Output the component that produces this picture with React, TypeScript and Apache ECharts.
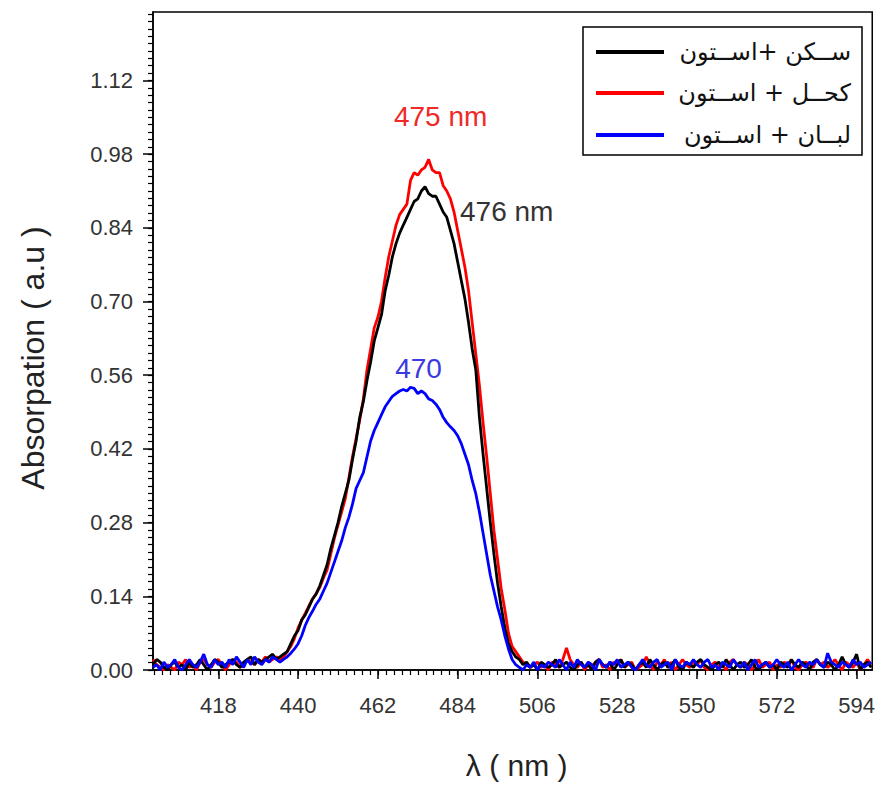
import React, { useEffect, useRef } from "react";
import * as echarts from "echarts";

// Wavelength grid (nm), 1 nm sampling from 400 to 598
const lambdaStart = 400;
const lambdaCount = 199;
const wavelengths: number[] = Array.from({ length: lambdaCount }, (_, i) => lambdaStart + i);

// Black: سكن + استون
const blackValues = [
  0.01,0.02,0.015,0.005,0.0,0.01,0.015,0.005,0.01,0.0,
  0.015,0.005,0.01,0.02,0.01,0.0,0.01,0.02,0.015,0.005,
  0.01,0.015,0.02,0.01,0.005,0.015,0.02,0.025,0.01,0.02,
  0.015,0.02,0.025,0.03,0.02,0.025,0.03,0.035,0.05,0.065,
  0.075,0.095,0.105,0.12,0.135,0.145,0.16,0.18,0.2,0.23,
  0.255,0.28,0.31,0.335,0.36,0.4,0.435,0.48,0.51,0.55,
  0.585,0.625,0.65,0.675,0.72,0.75,0.785,0.81,0.83,0.845,
  0.86,0.875,0.89,0.895,0.91,0.918,0.905,0.9,0.9,0.885,
  0.87,0.86,0.835,0.81,0.775,0.74,0.705,0.66,0.61,0.57,
  0.48,0.41,0.345,0.28,0.22,0.165,0.12,0.08,0.05,0.035,
  0.025,0.02,0.01,0.015,0.005,0.01,0.0,0.015,0.01,0.005,
  0.01,0.02,0.005,0.01,0.015,0.005,0.0,0.01,0.015,0.005,
  0.01,0.0,0.015,0.02,0.01,0.005,0.015,0.0,0.01,0.02,
  0.005,0.015,0.01,0.0,0.01,0.015,0.005,0.02,0.01,0.0,
  0.01,0.015,0.005,0.01,0.02,0.005,0.0,0.015,0.01,0.005,
  0.015,0.02,0.01,0.005,0.0,0.01,0.015,0.005,0.02,0.01,
  0.0,0.01,0.015,0.005,0.01,0.02,0.005,0.0,0.01,0.015,
  0.005,0.01,0.0,0.015,0.01,0.005,0.02,0.01,0.005,0.015,
  0.01,0.0,0.015,0.02,0.01,0.005,0.015,0.01,0.0,0.01,
  0.025,0.01,0.005,0.015,0.03,0.0,0.01,0.015,0.005,
];

// Red: كحل + استون
const redValues = [
  0.02,0.01,0.005,0.0,0.01,0.005,0.0,0.015,0.01,0.02,
  0.005,0.01,0.0,0.015,0.02,0.01,0.005,0.015,0.02,0.01,
  0.0,0.01,0.02,0.015,0.005,0.01,0.02,0.015,0.01,0.02,
  0.015,0.025,0.015,0.02,0.025,0.02,0.025,0.035,0.045,0.06,
  0.08,0.095,0.108,0.122,0.135,0.145,0.157,0.175,0.19,0.22,
  0.25,0.275,0.3,0.325,0.365,0.405,0.44,0.475,0.515,0.57,
  0.61,0.65,0.67,0.7,0.745,0.785,0.815,0.845,0.865,0.875,
  0.885,0.93,0.945,0.94,0.95,0.955,0.97,0.95,0.945,0.945,
  0.92,0.91,0.895,0.87,0.835,0.8,0.765,0.72,0.66,0.6,
  0.54,0.47,0.405,0.335,0.265,0.21,0.155,0.115,0.07,0.045,
  0.035,0.025,0.015,0.01,0.005,0.01,0.015,0.005,0.01,0.0,
  0.015,0.01,0.005,0.02,0.042,0.02,0.01,0.005,0.015,0.0,
  0.01,0.005,0.015,0.02,0.005,0.01,0.0,0.015,0.01,0.02,
  0.005,0.01,0.015,0.0,0.005,0.01,0.025,0.01,0.0,0.015,
  0.01,0.02,0.005,0.015,0.0,0.01,0.02,0.01,0.005,0.015,
  0.01,0.02,0.005,0.0,0.01,0.015,0.005,0.01,0.0,0.015,
  0.02,0.01,0.005,0.015,0.01,0.0,0.01,0.02,0.005,0.01,
  0.015,0.0,0.01,0.005,0.015,0.01,0.02,0.005,0.0,0.01,
  0.015,0.01,0.005,0.02,0.01,0.015,0.005,0.01,0.02,0.01,
  0.0,0.015,0.01,0.005,0.015,0.0,0.01,0.02,0.01,
];

// Blue: لبان + استون
const blueValues = [
  0.005,0.01,0.0,0.015,0.005,0.01,0.02,0.005,0.0,0.01,
  0.02,0.01,0.005,0.015,0.03,0.01,0.005,0.02,0.01,0.015,
  0.005,0.02,0.01,0.025,0.015,0.005,0.02,0.01,0.025,0.015,
  0.01,0.02,0.015,0.025,0.02,0.015,0.02,0.025,0.032,0.04,
  0.05,0.065,0.085,0.1,0.112,0.125,0.135,0.15,0.165,0.185,
  0.205,0.225,0.245,0.27,0.29,0.315,0.345,0.36,0.375,0.405,
  0.435,0.455,0.47,0.485,0.5,0.51,0.52,0.525,0.53,0.533,
  0.53,0.537,0.535,0.525,0.53,0.525,0.515,0.512,0.505,0.495,
  0.48,0.47,0.462,0.455,0.445,0.43,0.41,0.39,0.36,0.335,
  0.3,0.26,0.22,0.18,0.15,0.12,0.095,0.065,0.04,0.02,
  0.01,0.005,0.0,0.01,0.005,0.015,0.0,0.01,0.005,0.015,
  0.01,0.005,0.02,0.01,0.0,0.015,0.005,0.02,0.01,0.005,
  0.015,0.01,0.0,0.02,0.01,0.005,0.015,0.01,0.02,0.005,
  0.01,0.015,0.005,0.0,0.01,0.02,0.01,0.005,0.015,0.02,
  0.005,0.01,0.015,0.0,0.02,0.01,0.005,0.015,0.01,0.02,
  0.01,0.005,0.015,0.02,0.005,0.01,0.0,0.015,0.01,0.005,
  0.02,0.01,0.005,0.015,0.0,0.01,0.02,0.005,0.01,0.015,
  0.005,0.01,0.02,0.01,0.005,0.015,0.0,0.01,0.02,0.01,
  0.005,0.015,0.01,0.02,0.01,0.005,0.032,0.015,0.01,0.005,
  0.015,0.01,0.005,0.02,0.01,0.015,0.005,0.01,0.015,
];

const seriesNames = ["ســكن +اســتون", "كحــل + اســتون", "لبــان + اســتون"];
const seriesColors = ["#000000", "#ff0000", "#0000ff"];

// Peak annotations
const peakBlack = { x: 475, y: 0.918, label: "476 nm" };
const peakRed = { x: 476, y: 0.97, label: "475 nm" };
const peakBlue = { x: 471, y: 0.537, label: "470" };

const xTickLabels = [418, 440, 462, 484, 506, 528, 550, 572, 594];
const yTickLabels = [0, 0.14, 0.28, 0.42, 0.56, 0.7, 0.84, 0.98, 1.12];

const X_MIN = 400;
const X_MAX = 598.3;
const Y_MIN = 0;
const Y_MAX = 1.25;

const xMinorTicks: number[] = [];
for (let v = 400.4; v <= X_MAX; v += 2.2) xMinorTicks.push(+v.toFixed(2));
const yMinorTicks: number[] = [];
for (let v = 0; v <= Y_MAX; v += 0.014) yMinorTicks.push(+v.toFixed(3));

const FONT = "'Liberation Sans', Arial, 'DejaVu Sans', sans-serif";

function pairs(vals: number[]) {
  return wavelengths.map((w, i) => [w, vals[i]]);
}

function markLabel(p: { x: number; y: number; label: string }, color: string, offset: number[], align: string) {
  return {
    silent: true,
    symbol: "circle",
    symbolSize: 1,
    itemStyle: { color: "rgba(0,0,0,0)" },
    label: {
      show: true,
      position: "inside",
      formatter: p.label,
      color,
      fontSize: 28,
      fontFamily: FONT,
      offset,
      align,
    },
    data: [{ coord: [p.x, p.y] }],
  };
}

export default function App() {
  const ref = useRef<HTMLDivElement>(null);
  useEffect(() => {
    if (!ref.current) return;
    const chart = echarts.init(ref.current, null, { renderer: "svg" });

    const legendTop = 27;
    const legendLeft = 583;
    const legendRows = [52, 93, 135];
    const legendGraphics: any[] = [
      {
        type: "rect",
        shape: { x: legendLeft, y: legendTop, width: 279, height: 128 },
        style: { fill: "#ffffff", stroke: "#000000", lineWidth: 1.5 },
        z: 100,
      },
    ];
    seriesNames.forEach((name, i) => {
      legendGraphics.push({
        type: "line",
        shape: { x1: 596, y1: legendRows[i], x2: 664, y2: legendRows[i] },
        style: { stroke: seriesColors[i], lineWidth: 4 },
        z: 101,
      });
      legendGraphics.push({
        type: "text",
        x: 851,
        y: legendRows[i],
        style: {
          text: name,
          fill: "#111",
          font: `24px 'DejaVu Sans', sans-serif`,
          textAlign: "right",
          textVerticalAlign: "middle",
        },
        z: 101,
      });
    });

    const option: any = {
      animation: false,
      backgroundColor: "#ffffff",
      grid: {
        left: 153,
        right: 3,
        top: 12,
        bottom: 115,
        show: true,
        borderColor: "#000",
        borderWidth: 1.5,
        backgroundColor: "transparent",
      },
      xAxis: [
        {
          type: "value",
          min: X_MIN,
          max: X_MAX,
          name: "λ ( nm )",
          nameLocation: "middle",
          nameGap: 80,
          nameTextStyle: { fontSize: 30, color: "#222", fontFamily: FONT, padding: [0, 0, 0, 8] },
          axisLine: { show: true, lineStyle: { color: "#000", width: 1.5 } },
          axisTick: { show: true, customValues: xTickLabels, length: 9, lineStyle: { color: "#000", width: 1.5 } },
          axisLabel: {
            customValues: xTickLabels,
            margin: 24,
            fontSize: 22,
            color: "#333",
            fontFamily: FONT,
          },
          splitLine: { show: false },
        },
        {
          type: "value",
          min: X_MIN,
          max: X_MAX,
          position: "bottom",
          axisLine: { show: false },
          axisTick: { show: true, customValues: xMinorTicks, length: 5, lineStyle: { color: "#000", width: 1.2 } },
          axisLabel: { show: false },
          splitLine: { show: false },
        },
      ],
      yAxis: [
        {
          type: "value",
          min: Y_MIN,
          max: Y_MAX,
          name: "Absorpation ( a.u )",
          nameLocation: "middle",
          nameGap: 104,
          nameTextStyle: { fontSize: 32, color: "#222", fontFamily: FONT, padding: [0, 34, 0, 0] },
          axisLine: { show: true, lineStyle: { color: "#000", width: 1.5 } },
          axisTick: { show: true, customValues: yTickLabels, length: 10, lineStyle: { color: "#000", width: 1.5 } },
          axisLabel: {
            customValues: yTickLabels,
            margin: 20,
            fontSize: 22,
            color: "#333",
            fontFamily: FONT,
            formatter: (v: number) => v.toFixed(2),
          },
          splitLine: { show: false },
        },
        {
          type: "value",
          min: Y_MIN,
          max: Y_MAX,
          position: "left",
          axisLine: { show: false },
          axisTick: { show: true, customValues: yMinorTicks, length: 5, lineStyle: { color: "#000", width: 1.2 } },
          axisLabel: { show: false },
          splitLine: { show: false },
        },
      ],
      series: [
        {
          name: seriesNames[1],
          type: "line",
          data: pairs(redValues),
          showSymbol: false,
          lineStyle: { color: seriesColors[1], width: 2.8 },
          itemStyle: { color: seriesColors[1] },
          markPoint: markLabel(peakRed, "#f02828", [12, -43], "center"),
        },
        {
          name: seriesNames[0],
          type: "line",
          data: pairs(blackValues),
          showSymbol: false,
          lineStyle: { color: seriesColors[0], width: 2.8 },
          itemStyle: { color: seriesColors[0] },
          markPoint: markLabel(peakBlack, "#333333", [35, 25], "left"),
        },
        {
          name: seriesNames[2],
          type: "line",
          data: pairs(blueValues),
          showSymbol: false,
          lineStyle: { color: seriesColors[2], width: 2.8 },
          itemStyle: { color: seriesColors[2] },
          markPoint: markLabel(peakBlue, "#3a3ae0", [8, -19], "center"),
        },
      ],
      graphic: legendGraphics,
    };
    chart.setOption(option);
    return () => chart.dispose();
  }, []);

  return (
    <div
      ref={ref}
      style={{ position: "absolute", left: 0, top: 0, width: 878, height: 785 }}
    />
  );
}
